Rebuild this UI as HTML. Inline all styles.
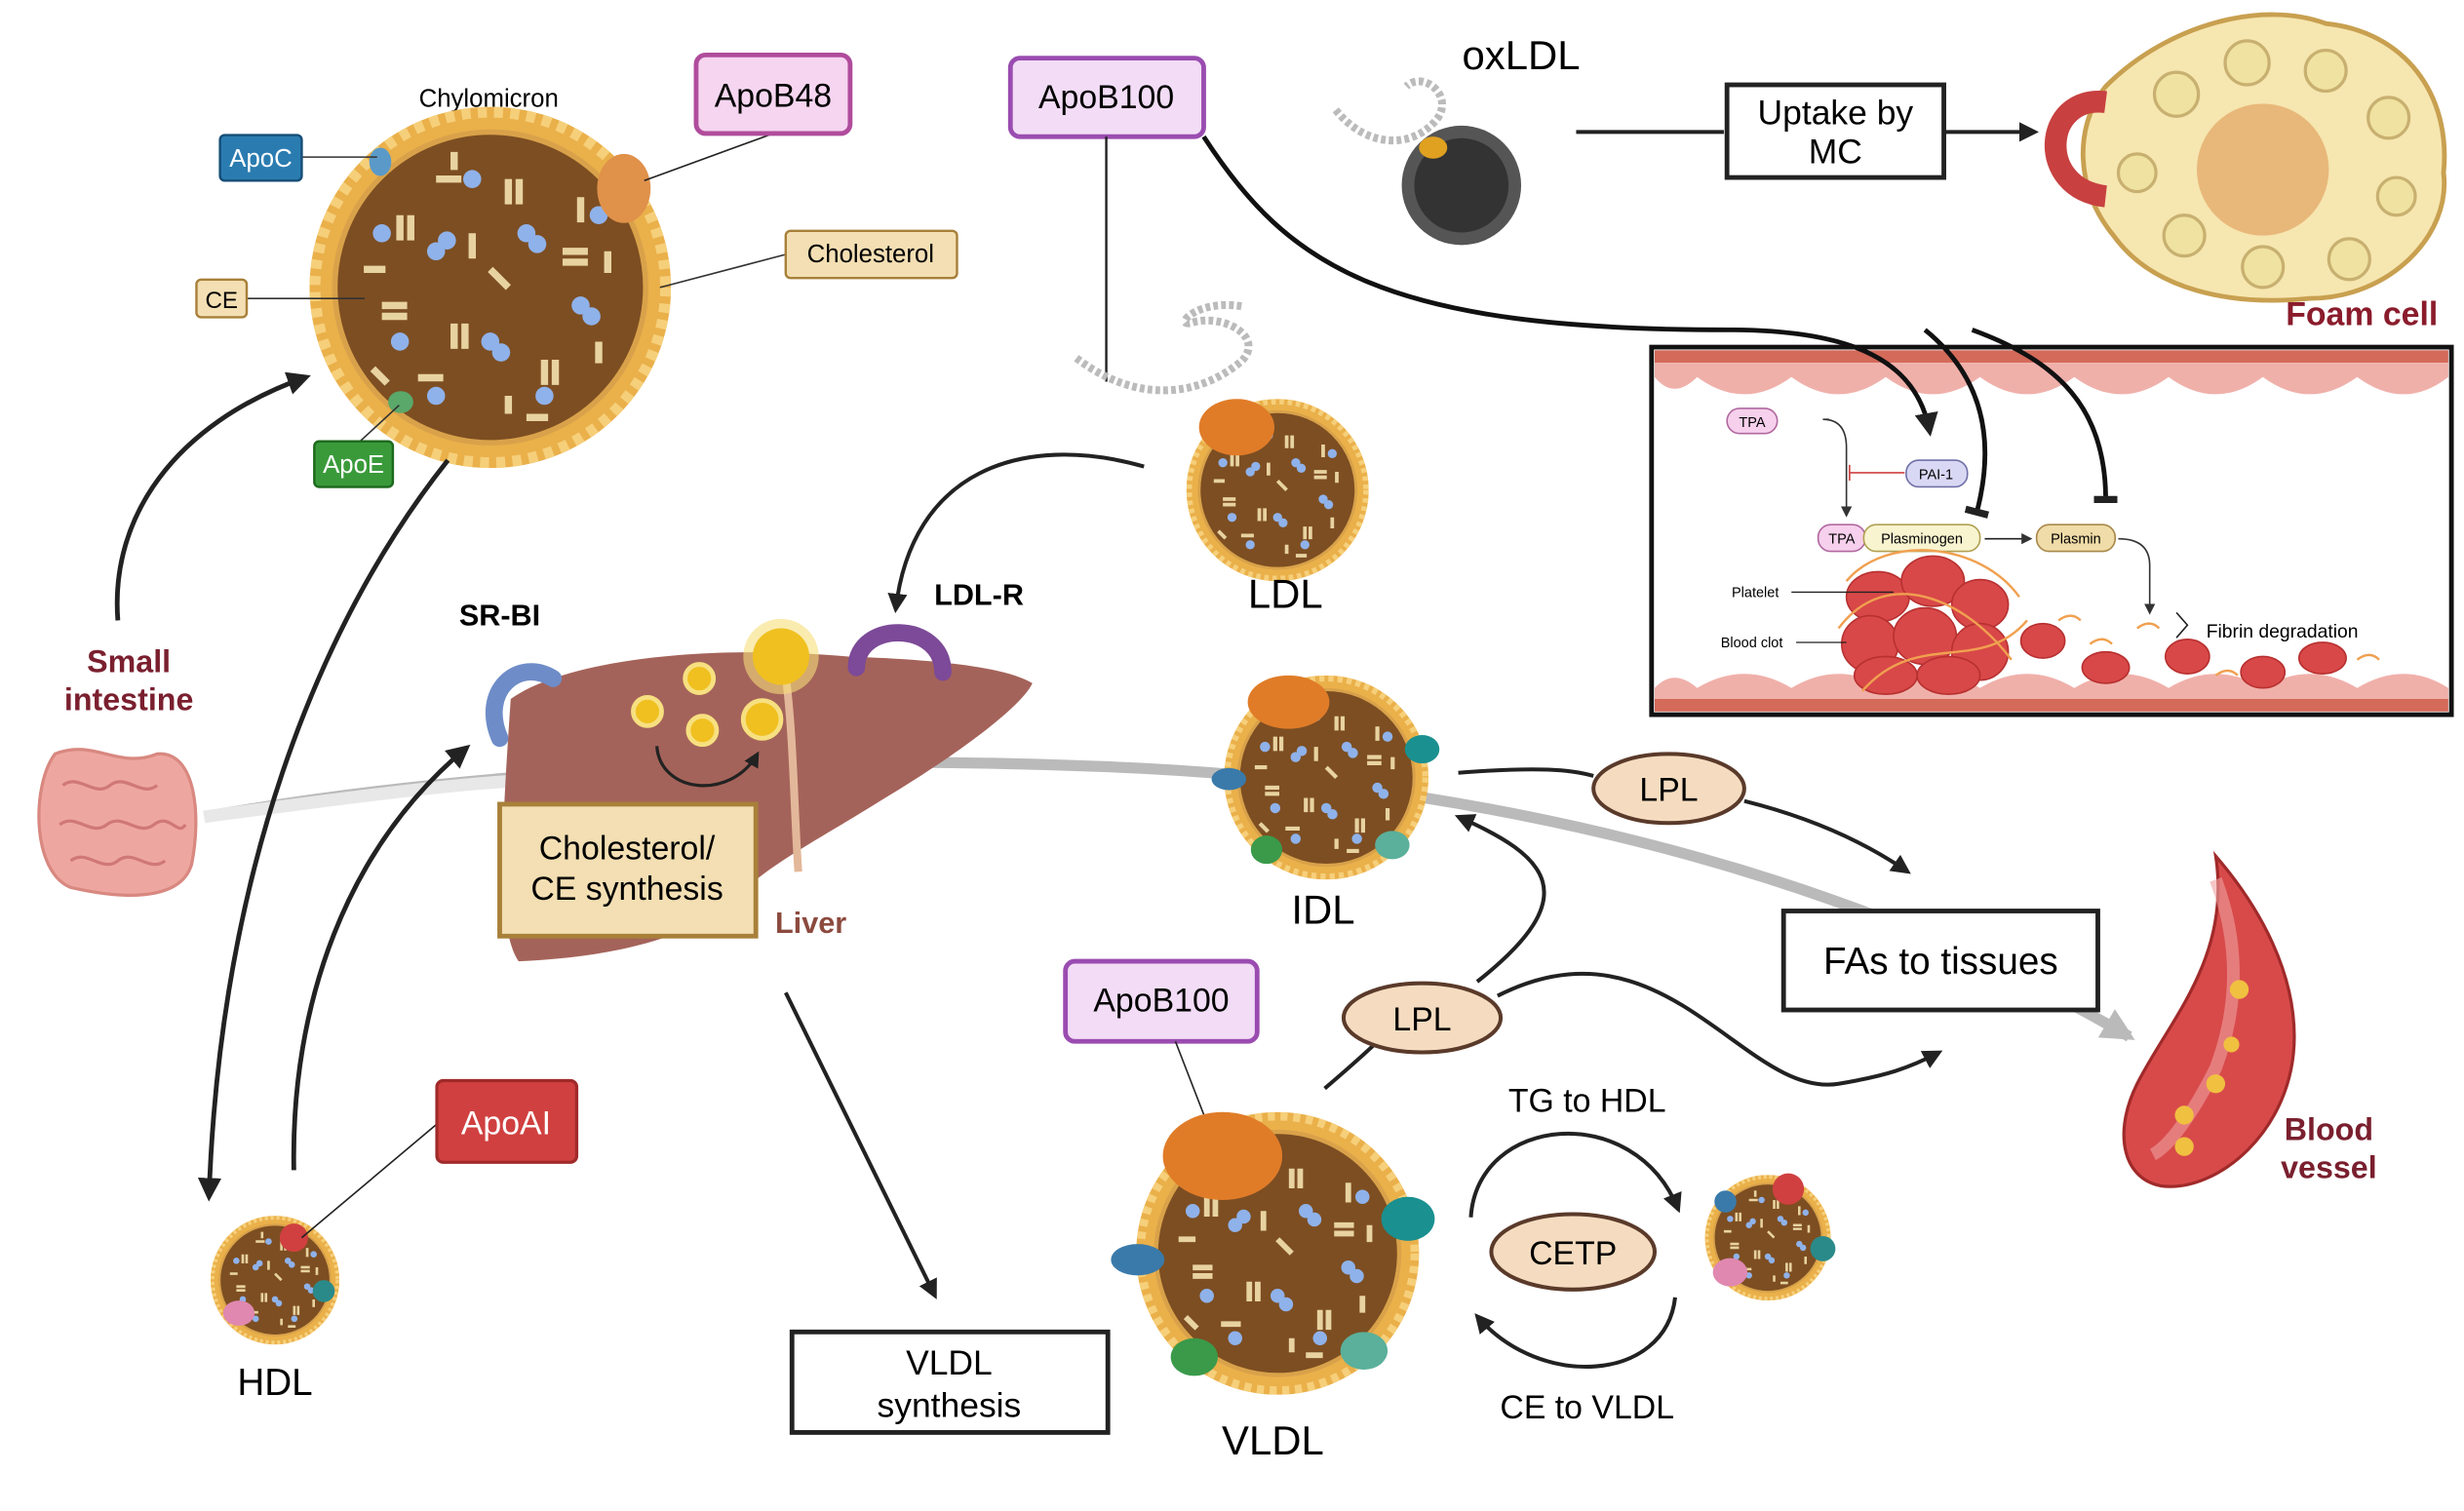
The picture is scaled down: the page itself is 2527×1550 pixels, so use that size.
<!DOCTYPE html>
<html><head><meta charset="utf-8"><style>
html,body{margin:0;padding:0;background:#fff}
svg{display:block}
text{font-family:"Liberation Sans",sans-serif}
</style></head><body>
<svg width="2527" height="1550" viewBox="0 0 1568 962" preserveAspectRatio="none" xmlns="http://www.w3.org/2000/svg">
<defs>
<marker id="ah" viewBox="0 0 10 10" refX="8" refY="5" markerWidth="5" markerHeight="5" orient="auto"><path d="M0,0L10,5L0,10z" fill="#222"/></marker>
<marker id="ahs" viewBox="0 0 10 10" refX="8" refY="5" markerWidth="7" markerHeight="7" orient="auto"><path d="M0,0L10,5L0,10z" fill="#333"/></marker>
<marker id="tb" viewBox="0 0 10 10" refX="5" refY="5" markerWidth="5" markerHeight="5" orient="auto"><path d="M5,0V10" stroke="#222" stroke-width="3"/></marker>
<marker id="gah" viewBox="0 0 10 10" refX="8" refY="5" markerWidth="3" markerHeight="3" orient="auto"><path d="M0,0L10,5L0,10z" fill="#aaa"/></marker>
<symbol id="p" viewBox="-100 -100 200 200">
<circle r="100" fill="#eab04a"/>
<circle r="97" fill="none" stroke="#f6cf7a" stroke-width="6" stroke-dasharray="5 4"/>
<circle r="86" fill="#7d4e22" stroke="#d9a24a" stroke-width="3"/>
<g stroke="#e8d3a0" stroke-width="4">
<path d="M-50,-40v14M-44,-40v14M10,-60v14M16,-60v14M40,-20h14M40,-14h14M-20,20v14M-14,20v14M30,40v14M36,40v14M-60,10h14M-60,16h14M0,-10l10,10M-30,-60h14M50,-50v14M-40,50h14M10,60v10M-10,-30v14M-70,-10h12M60,30v12M-20,-75v10M20,72h12M-65,45l8,8M65,-20v12"/>
</g>
<g fill="#8fb2ea">
<circle cx="-30" cy="-20" r="5"/><circle cx="-24" cy="-26" r="5"/><circle cx="20" cy="-30" r="5"/><circle cx="26" cy="-24" r="5"/><circle cx="0" cy="30" r="5"/><circle cx="6" cy="36" r="5"/><circle cx="-50" cy="30" r="5"/><circle cx="50" cy="10" r="5"/><circle cx="56" cy="16" r="5"/><circle cx="-10" cy="-60" r="5"/><circle cx="30" cy="60" r="5"/><circle cx="-30" cy="60" r="5"/><circle cx="-60" cy="-30" r="5"/><circle cx="60" cy="-40" r="5"/>
</g>
</symbol>
</defs>

<!-- gray flow line -->
<path d="M130,520 C300,490 500,480 700,488 C900,495 1150,540 1355,660" fill="none" stroke="#aaa" stroke-width="7" opacity="0.8" marker-end="url(#gah)"/>
<path d="M130,520 C220,508 280,500 330,497" fill="none" stroke="#e8e8e8" stroke-width="8"/>

<!-- Chylomicron -->
<text x="311" y="68" font-size="16" text-anchor="middle">Chylomicron</text>
<use href="#p" x="197" y="68" width="230" height="230"/>
<ellipse cx="397" cy="120" rx="17" ry="22" fill="#e0914a"/>
<ellipse cx="242" cy="103" rx="7" ry="9" fill="#5b9ac8"/>
<ellipse cx="255" cy="256" rx="8" ry="7" fill="#5aa86a"/>
<line x1="410" y1="115" x2="492" y2="85" stroke="#222"/>
<rect x="443" y="35" width="98" height="50" rx="6" fill="#f6d5f0" stroke="#b04c9c" stroke-width="3"/>
<text x="492" y="68" font-size="21" text-anchor="middle">ApoB48</text>
<line x1="192" y1="100" x2="240" y2="100" stroke="#333"/>
<rect x="140" y="86" width="52" height="29" rx="3" fill="#2a7cb0" stroke="#164e78" stroke-width="1.5"/>
<text x="166" y="106" font-size="16" fill="#fff" text-anchor="middle">ApoC</text>
<line x1="157" y1="190" x2="232" y2="190" stroke="#333"/>
<rect x="125" y="178" width="32" height="24" rx="3" fill="#f3dfb3" stroke="#a8803a" stroke-width="1.5"/>
<text x="141" y="196" font-size="15" text-anchor="middle">CE</text>
<line x1="420" y1="183" x2="500" y2="162" stroke="#333"/>
<rect x="500" y="147" width="109" height="30" rx="3" fill="#f3dfb3" stroke="#a8803a" stroke-width="1.5"/>
<text x="554" y="167" font-size="16" text-anchor="middle">Cholesterol</text>
<line x1="228" y1="282" x2="254" y2="258" stroke="#333"/>
<rect x="200" y="281" width="50" height="29" rx="3" fill="#3a9a3a" stroke="#1e6a1e" stroke-width="1.5"/>
<text x="225" y="301" font-size="16" fill="#fff" text-anchor="middle">ApoE</text>

<!-- Small intestine -->
<path d="M75,395 C70,330 110,270 195,240" fill="none" stroke="#222" stroke-width="3" marker-end="url(#ah)"/>
<text x="82" y="428" font-size="20" font-weight="bold" fill="#7a1f2e" text-anchor="middle">Small</text>
<text x="82" y="452" font-size="20" font-weight="bold" fill="#7a1f2e" text-anchor="middle">intestine</text>
<path d="M35,480 C60,470 75,490 100,480 C125,478 128,520 122,550 C115,575 75,572 45,565 C20,555 20,500 35,480z" fill="#eea7a0" stroke="#d88880" stroke-width="2"/>
<path d="M40,500c10,-8 20,8 30,0s20,8 30,0M38,525c10,-8 20,8 30,0s20,8 30,0s15,8 20,0M45,548c10,-8 20,8 30,0s20,8 30,0" fill="none" stroke="#d07878" stroke-width="2"/>

<!-- Big arrows left -->
<path d="M285,293 C200,400 140,560 133,762" fill="none" stroke="#222" stroke-width="3" marker-end="url(#ah)"/>
<path d="M187,745 C185,640 220,540 297,476" fill="none" stroke="#222" stroke-width="3" marker-end="url(#ah)"/>

<!-- Liver -->
<path d="M325,445 C360,420 450,410 540,418 C600,420 640,425 657,435 C650,450 610,480 560,510 C520,535 490,550 470,570 C440,600 380,610 330,612 C315,590 320,520 325,445z" fill="#a4635a"/>
<path d="M500,430 C505,470 505,510 508,555" fill="none" stroke="#e3b89a" stroke-width="5"/>
<path d="M318,470 C305,440 330,418 352,432" fill="none" stroke="#6e8cc8" stroke-width="11" stroke-linecap="round"/>
<path d="M545,425 C545,395 600,395 600,428" fill="none" stroke="#7c4a98" stroke-width="11" stroke-linecap="round"/>
<circle cx="497" cy="418" r="24" fill="#f6dd7a" opacity="0.6"/>
<circle cx="497" cy="418" r="18" fill="#f0c020"/>
<circle cx="445" cy="432" r="9" fill="#f0c020" stroke="#f7e080" stroke-width="3"/>
<circle cx="412" cy="453" r="9" fill="#f0c020" stroke="#f7e080" stroke-width="3"/>
<circle cx="447" cy="465" r="9" fill="#f0c020" stroke="#f7e080" stroke-width="3"/>
<circle cx="485" cy="458" r="12" fill="#f0c020" stroke="#f7e080" stroke-width="3"/>
<path d="M418,475 C420,505 465,510 482,480" fill="none" stroke="#222" stroke-width="2" marker-end="url(#ah)"/>
<text x="318" y="398" font-size="19" font-weight="bold" text-anchor="middle">SR-BI</text>
<text x="623" y="385" font-size="19" font-weight="bold" text-anchor="middle">LDL-R</text>
<rect x="318" y="512" width="163" height="84" fill="#f3dfb3" stroke="#a8803a" stroke-width="3"/>
<text x="399" y="547" font-size="21" text-anchor="middle">Cholesterol/</text>
<text x="399" y="573" font-size="21" text-anchor="middle">CE synthesis</text>
<text x="516" y="594" font-size="19" font-weight="bold" fill="#8c4a3e" text-anchor="middle">Liver</text>
<path d="M500,632 L595,825" stroke="#222" stroke-width="2.5" marker-end="url(#ah)"/>
<rect x="504" y="848" width="201" height="64" fill="#fff" stroke="#222" stroke-width="3"/>
<text x="604" y="875" font-size="22" text-anchor="middle">VLDL</text>
<text x="604" y="902" font-size="22" text-anchor="middle">synthesis</text>

<!-- HDL -->
<use href="#p" x="134" y="774" width="82" height="82"/>
<circle cx="187" cy="788" r="9" fill="#d04040"/>
<ellipse cx="152" cy="836" rx="10" ry="8" fill="#e088b0"/>
<circle cx="206" cy="822" r="7" fill="#2a8a8a"/>
<line x1="192" y1="788" x2="280" y2="714" stroke="#222"/>
<rect x="278" y="688" width="89" height="52" rx="4" fill="#d04040" stroke="#a02a2a" stroke-width="2"/>
<text x="322" y="722" font-size="21" fill="#fff" text-anchor="middle">ApoAI</text>
<text x="175" y="888" font-size="24" text-anchor="middle">HDL</text>

<!-- ApoB100 top / LDL -->
<rect x="643" y="37" width="123" height="50" rx="6" fill="#f2dcf6" stroke="#9a4cb0" stroke-width="3"/>
<text x="704" y="69" font-size="21" text-anchor="middle">ApoB100</text>
<line x1="704" y1="87" x2="704" y2="243" stroke="#222" stroke-width="1.5"/>
<path d="M685,228 C720,255 760,255 790,230 C805,215 780,200 760,205 C745,210 760,190 790,195" fill="none" stroke="#bbb" stroke-width="5" stroke-dasharray="3 2"/>
<use href="#p" x="755" y="254" width="116" height="116"/>
<ellipse cx="787" cy="272" rx="24" ry="18" fill="#e07c28"/>
<text x="818" y="387" font-size="26" text-anchor="middle">LDL</text>
<path d="M728,297 C650,275 580,300 570,388" fill="none" stroke="#222" stroke-width="2.5" marker-end="url(#ah)"/>

<!-- oxLDL -->
<text x="968" y="44" font-size="26" text-anchor="middle">oxLDL</text>
<path d="M850,70 C870,95 900,95 915,75 C925,60 905,45 895,55" fill="none" stroke="#bbb" stroke-width="5" stroke-dasharray="3 2"/>
<circle cx="930" cy="118" r="38" fill="#555"/>
<circle cx="930" cy="118" r="30" fill="#333"/>
<ellipse cx="912" cy="94" rx="9" ry="7" fill="#e0a020"/>
<path d="M1003,84 L1097,84" stroke="#222" stroke-width="2.5"/>
<rect x="1099" y="54" width="138" height="59" fill="#fff" stroke="#222" stroke-width="3"/>
<text x="1168" y="79" font-size="22" text-anchor="middle">Uptake by</text>
<text x="1168" y="104" font-size="22" text-anchor="middle">MC</text>
<path d="M1237,84 L1295,84" stroke="#222" stroke-width="2.5" marker-end="url(#ah)"/>

<!-- Foam cell -->
<path d="M1340,55 C1380,15 1440,0 1480,15 C1530,20 1560,60 1555,110 C1560,150 1520,190 1470,190 C1420,195 1370,185 1345,150 C1320,120 1320,80 1340,55z" fill="#f6e6b0" stroke="#c8a050" stroke-width="3"/>
<g fill="#f0e2a0" stroke="#c8b070" stroke-width="2">
<circle cx="1385" cy="60" r="14"/><circle cx="1430" cy="40" r="14"/><circle cx="1480" cy="45" r="13"/><circle cx="1520" cy="75" r="13"/><circle cx="1525" cy="125" r="12"/><circle cx="1495" cy="165" r="13"/><circle cx="1440" cy="170" r="13"/><circle cx="1390" cy="150" r="13"/><circle cx="1360" cy="110" r="12"/>
</g>
<circle cx="1440" cy="108" r="42" fill="#e8b87a"/>
<path d="M1340,65 C1300,60 1295,120 1340,125" fill="none" stroke="#c84040" stroke-width="14"/>
<text x="1503" y="207" font-size="21" font-weight="bold" fill="#8a1c2c" text-anchor="middle">Foam cell</text>

<!-- Inset -->
<rect x="1051" y="221" width="509" height="234" fill="#fff" stroke="#111" stroke-width="3"/>
<rect x="1053" y="223" width="505" height="8" fill="#d46a5a"/>
<path d="M1053,231 H1558 V240 Q1530,262 1500,240 Q1470,262 1440,240 Q1410,262 1380,240 Q1350,262 1320,240 Q1290,262 1260,240 Q1230,262 1200,240 Q1170,262 1140,240 Q1110,262 1080,240 Q1065,255 1053,240z" fill="#f0b0aa"/>
<rect x="1053" y="445" width="505" height="8" fill="#d46a5a"/>
<path d="M1053,445 H1558 V438 Q1530,420 1500,438 Q1470,420 1440,438 Q1410,420 1380,438 Q1350,420 1320,438 Q1290,420 1260,438 Q1230,420 1200,438 Q1170,420 1140,438 Q1110,420 1080,438 Q1065,425 1053,438z" fill="#f0b0aa"/>
<path d="M1164,267 H1160 Q1175,267 1175,285 V328" fill="none" stroke="#333" stroke-width="1" marker-end="url(#ahs)"/>
<rect x="1099" y="260" width="32" height="16" rx="8" fill="#f6d0ec" stroke="#b068a0"/>
<text x="1115" y="272" font-size="9" text-anchor="middle">TPA</text>
<line x1="1177" y1="301" x2="1212" y2="301" stroke="#d04040"/>
<line x1="1177" y1="296" x2="1177" y2="306" stroke="#d04040"/>
<rect x="1213" y="293" width="39" height="17" rx="8" fill="#d8d8f4" stroke="#7070a8"/>
<text x="1232" y="305" font-size="9" text-anchor="middle">PAI-1</text>
<rect x="1157" y="334" width="30" height="17" rx="8" fill="#f6d0ec" stroke="#b068a0"/>
<text x="1172" y="346" font-size="9" text-anchor="middle">TPA</text>
<rect x="1186" y="334" width="74" height="17" rx="8" fill="#f8f4d0" stroke="#b0a050"/>
<text x="1223" y="346" font-size="9" text-anchor="middle">Plasminogen</text>
<line x1="1263" y1="343" x2="1292" y2="343" stroke="#222" marker-end="url(#ahs)"/>
<rect x="1296" y="334" width="50" height="17" rx="8" fill="#f0dca8" stroke="#a8884a"/>
<text x="1321" y="346" font-size="9" text-anchor="middle">Plasmin</text>
<path d="M1348,343 Q1368,343 1368,360 V390" fill="none" stroke="#333" marker-end="url(#ahs)"/>
<g fill="#d84848" stroke="#b83030" stroke-width="1">
<ellipse cx="1195" cy="380" rx="20" ry="16"/><ellipse cx="1230" cy="370" rx="20" ry="16"/><ellipse cx="1260" cy="385" rx="18" ry="16"/><ellipse cx="1190" cy="410" rx="18" ry="18"/><ellipse cx="1225" cy="405" rx="20" ry="18"/><ellipse cx="1260" cy="415" rx="18" ry="18"/><ellipse cx="1200" cy="430" rx="20" ry="12"/><ellipse cx="1240" cy="430" rx="20" ry="12"/>
<ellipse cx="1300" cy="408" rx="14" ry="11"/><ellipse cx="1340" cy="425" rx="15" ry="10"/><ellipse cx="1392" cy="418" rx="14" ry="11"/><ellipse cx="1440" cy="428" rx="14" ry="10"/><ellipse cx="1478" cy="419" rx="15" ry="10"/>
</g>
<path d="M1175,370 C1200,340 1260,345 1285,380 M1170,400 C1200,360 1250,380 1280,420 M1185,440 C1220,400 1260,430 1290,395 M1310,395q8,-6 14,0 M1330,410q8,-6 14,0 M1360,400q8,-6 14,0 M1410,430q8,-6 14,0 M1500,420q8,-6 14,0" fill="none" stroke="#f0a050" stroke-width="1.5"/>
<text x="1102" y="380" font-size="9">Platelet</text>
<line x1="1140" y1="377" x2="1205" y2="377" stroke="#222" stroke-width="0.8"/>
<text x="1095" y="412" font-size="9">Blood clot</text>
<line x1="1143" y1="409" x2="1175" y2="409" stroke="#222" stroke-width="0.8"/>
<path d="M1385,390 L1392,398 L1385,406" fill="none" stroke="#222" stroke-width="1"/>
<text x="1404" y="406" font-size="12">Fibrin degradation</text>
<!-- arrows into inset (drawn on top) -->
<path d="M766,87 C820,170 880,210 1100,210 C1180,210 1220,230 1228,275" fill="none" stroke="#111" stroke-width="3" marker-end="url(#ah)"/>
<path d="M1225,210 C1262,240 1270,280 1258,326" fill="none" stroke="#111" stroke-width="3" marker-end="url(#tb)"/>
<path d="M1255,210 C1310,230 1340,260 1340,318" fill="none" stroke="#111" stroke-width="3" marker-end="url(#tb)"/>

<!-- IDL -->
<use href="#p" x="772" y="430" width="144" height="130"/>
<ellipse cx="820" cy="447" rx="26" ry="17" fill="#e07c28"/>
<ellipse cx="905" cy="477" rx="11" ry="9" fill="#1a9090"/>
<ellipse cx="782" cy="496" rx="11" ry="7" fill="#3a7aaa"/>
<ellipse cx="806" cy="541" rx="10" ry="9" fill="#3a9a4a"/>
<ellipse cx="886" cy="538" rx="11" ry="9" fill="#5ab09a"/>
<text x="842" y="588" font-size="26" text-anchor="middle">IDL</text>
<path d="M928,492 C980,488 1000,490 1014,494" fill="none" stroke="#222" stroke-width="2.5"/>
<ellipse cx="1062" cy="502" rx="48" ry="22" fill="#f5dcc0" stroke="#5a3a2a" stroke-width="2.5"/>
<text x="1062" y="510" font-size="21" text-anchor="middle">LPL</text>
<path d="M1110,510 C1150,520 1185,535 1214,555" fill="none" stroke="#222" stroke-width="2.5" marker-end="url(#ah)"/>
<rect x="1135" y="580" width="200" height="63" fill="#fff" stroke="#222" stroke-width="3"/>
<text x="1235" y="620" font-size="24" text-anchor="middle">FAs to tissues</text>

<!-- Blood vessel -->
<path d="M1410,545 C1440,580 1460,620 1460,660 C1460,720 1410,760 1375,755 C1350,750 1345,720 1360,690 C1380,650 1420,610 1410,545z" fill="#d84a4a" stroke="#a02a2a" stroke-width="2"/>
<path d="M1410,560 C1425,600 1425,640 1410,680 C1395,710 1380,730 1370,735" fill="none" stroke="#f0a0a0" stroke-width="8" opacity="0.6"/>
<circle cx="1425" cy="630" r="6" fill="#f0c040"/><circle cx="1410" cy="690" r="6" fill="#f0c040"/><circle cx="1390" cy="710" r="6" fill="#f0c040"/><circle cx="1390" cy="730" r="6" fill="#f0c040"/><circle cx="1420" cy="665" r="5" fill="#f0c040"/>
<text x="1482" y="726" font-size="20" font-weight="bold" fill="#7a1f2e" text-anchor="middle">Blood</text>
<text x="1482" y="750" font-size="20" font-weight="bold" fill="#7a1f2e" text-anchor="middle">vessel</text>

<!-- VLDL -->
<rect x="678" y="612" width="122" height="51" rx="6" fill="#f2dcf6" stroke="#9a4cb0" stroke-width="3"/>
<text x="739" y="644" font-size="21" text-anchor="middle">ApoB100</text>
<line x1="748" y1="663" x2="772" y2="725" stroke="#222"/>
<use href="#p" x="707" y="708" width="212" height="180"/>
<ellipse cx="778" cy="736" rx="38" ry="28" fill="#e07c28"/>
<ellipse cx="896" cy="776" rx="17" ry="14" fill="#1a9090"/>
<ellipse cx="724" cy="802" rx="17" ry="10" fill="#3a7aaa"/>
<ellipse cx="760" cy="864" rx="15" ry="12" fill="#3a9a4a"/>
<ellipse cx="868" cy="860" rx="15" ry="12" fill="#5ab09a"/>
<text x="810" y="926" font-size="26" text-anchor="middle">VLDL</text>
<path d="M843,693 C870,670 880,660 890,650" fill="none" stroke="#222" stroke-width="2.5"/>
<ellipse cx="905" cy="648" rx="50" ry="22" fill="#f5dcc0" stroke="#5a3a2a" stroke-width="2.5"/>
<text x="905" y="656" font-size="21" text-anchor="middle">LPL</text>
<path d="M953,634 C1060,580 1110,700 1170,690 C1200,685 1215,680 1234,670" fill="none" stroke="#222" stroke-width="2.5" marker-end="url(#ah)"/>
<path d="M940,625 C1010,570 985,545 928,520" fill="none" stroke="#222" stroke-width="2.5" marker-end="url(#ah)"/>

<!-- CETP -->
<text x="1010" y="708" font-size="21" text-anchor="middle">TG to HDL</text>
<path d="M936,775 C940,710 1040,700 1068,770" fill="none" stroke="#222" stroke-width="2.5" marker-end="url(#ah)"/>
<ellipse cx="1001" cy="797" rx="52" ry="24" fill="#f5dcc0" stroke="#5a3a2a" stroke-width="2.5"/>
<text x="1001" y="805" font-size="21" text-anchor="middle">CETP</text>
<path d="M1066,826 C1060,880 980,885 940,838" fill="none" stroke="#222" stroke-width="2.5" marker-end="url(#ah)"/>
<text x="1010" y="903" font-size="21" text-anchor="middle">CE to VLDL</text>
<use href="#p" x="1081" y="748" width="88" height="80"/>
<circle cx="1138" cy="757" r="10" fill="#d04040"/>
<ellipse cx="1101" cy="810" rx="11" ry="9" fill="#e088b0"/>
<circle cx="1160" cy="795" r="8" fill="#2a8a8a"/>
<circle cx="1098" cy="765" r="7" fill="#3a7aaa"/>
</svg>
</body></html>
